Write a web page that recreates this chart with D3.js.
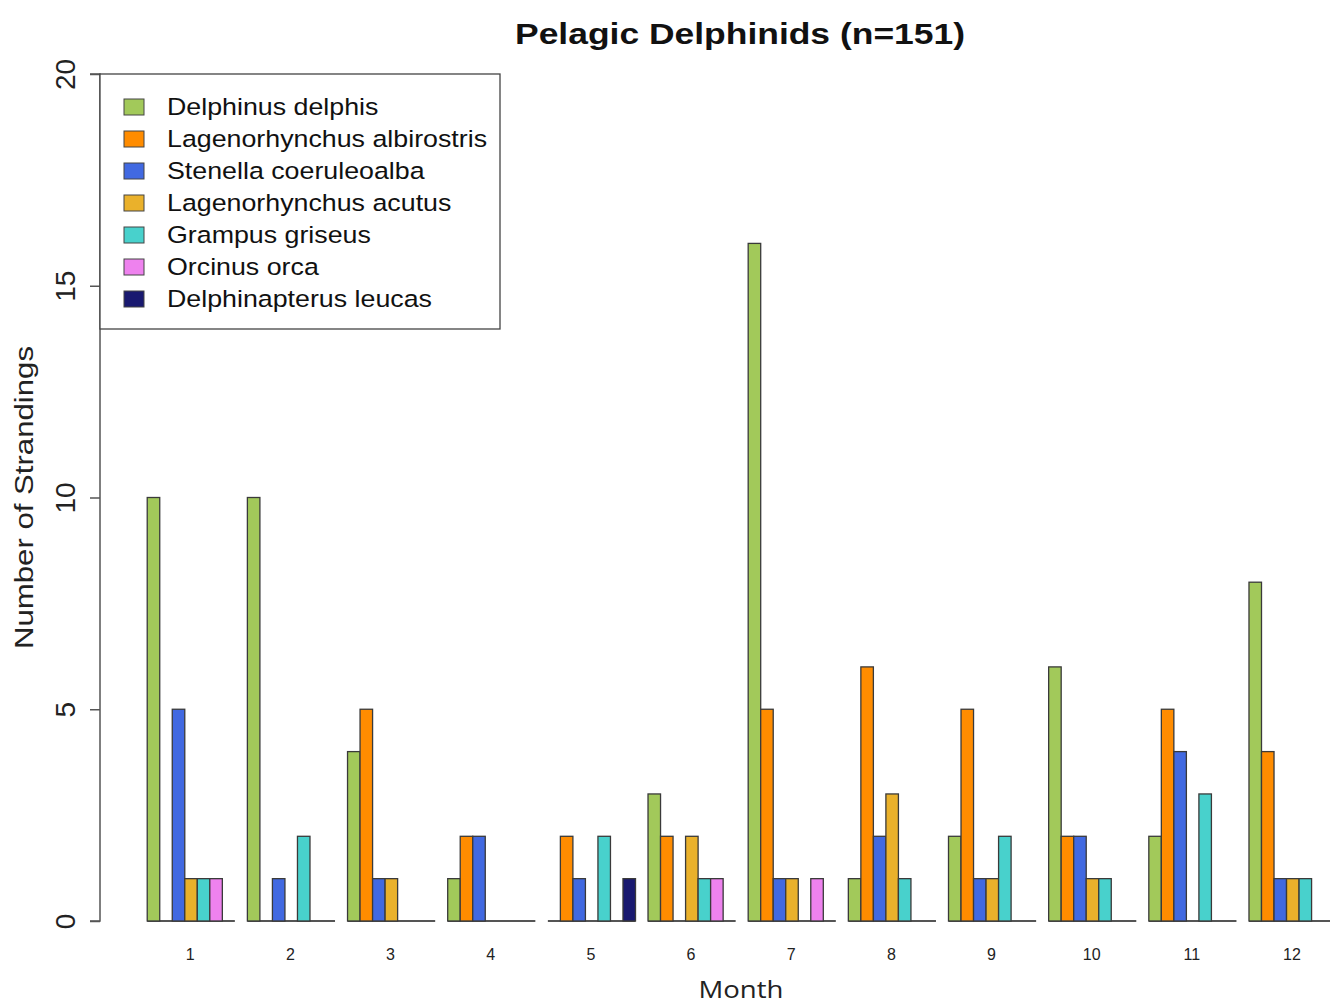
<!DOCTYPE html>
<html>
<head>
<meta charset="utf-8">
<script src="https://cdn.jsdelivr.net/npm/d3@7"></script>
<style>
  html, body { margin: 0; padding: 0; background: #fff; }
  svg { display: block; }
</style>
</head>
<body>
<svg id="chart" width="1330" height="1005"></svg>
<script>
// Monthly strandings of pelagic delphinids, grouped by species
const months = ["1","2","3","4","5","6","7","8","9","10","11","12"];
const species = [
  "Delphinus delphis",
  "Lagenorhynchus albirostris",
  "Stenella coeruleoalba",
  "Lagenorhynchus acutus",
  "Grampus griseus",
  "Orcinus orca",
  "Delphinapterus leucas"
];
const speciesColors = ["#a2c95a", "#ff8c00", "#4169e1", "#eab12b", "#48d1cc", "#ee82ee", "#191970"];

// counts per species, one value per month
const delphinusDelphis          = [10, 10, 4, 1, 0, 3, 16, 1, 2, 6, 2, 8];
const lagenorhynchusAlbirostris = [0, 0, 5, 2, 2, 2, 5, 6, 5, 2, 5, 4];
const stenellaCoeruleoalba      = [5, 1, 1, 2, 1, 0, 1, 2, 1, 2, 4, 1];
const lagenorhynchusAcutus      = [1, 0, 1, 0, 0, 2, 1, 3, 1, 1, 0, 1];
const grampusGriseus            = [1, 2, 0, 0, 2, 1, 0, 1, 2, 1, 3, 1];
const orcinusOrca               = [1, 0, 0, 0, 0, 1, 1, 0, 0, 0, 0, 0];
const delphinapterusLeucas      = [0, 0, 0, 0, 1, 0, 0, 0, 0, 0, 0, 0];

const yTicks = [0, 5, 10, 15, 20];

const seriesValues = [delphinusDelphis, lagenorhynchusAlbirostris, stenellaCoeruleoalba,
  lagenorhynchusAcutus, grampusGriseus, orcinusOrca, delphinapterusLeucas];
const total = d3.sum(seriesValues.flat());

const svg = d3.select("#chart");
const font = "'Liberation Sans', Arial, sans-serif";

// grouped layout: each month holds one spacer slot followed by one slot per species
const slotW = 12.52;
const slots = months.length * (species.length + 1);
const x0 = d3.scaleBand().domain(months).range([134.7, 134.7 + slotW * slots]).padding(0);
const x1 = d3.scaleBand().domain(species).range([slotW, x0.bandwidth()]).padding(0);
const y = d3.scaleLinear().domain([0, 20]).range([921, 74]);

const groups = svg.append("g").selectAll("g")
  .data(months)
  .join("g")
  .attr("transform", d => `translate(${x0(d)},0)`);

// baseline under each group (what a zero-height bar leaves behind)
groups.append("line")
  .attr("x1", x1.range()[0]).attr("x2", x1.range()[1])
  .attr("y1", y(0)).attr("y2", y(0))
  .attr("stroke", "#555").attr("stroke-width", 2);

groups.selectAll("rect")
  .data((m, i) => species.map((s, j) => ({ s, j, v: seriesValues[j][i] })))
  .join("rect")
  .attr("x", d => x1(d.s))
  .attr("width", x1.bandwidth())
  .attr("y", d => y(d.v))
  .attr("height", d => y(0) - y(d.v))
  .attr("fill", d => speciesColors[d.j])
  .attr("stroke", "#3a3a3a")
  .attr("stroke-width", 1.3);

// month labels under each group
svg.append("g").selectAll("text")
  .data(months)
  .join("text")
  .attr("x", d => x0(d) + slotW + x1.bandwidth() * species.length / 2 - 0.8)
  .attr("y", 960)
  .attr("text-anchor", "middle")
  .attr("font-family", font)
  .attr("font-size", 16)
  .attr("fill", "#222")
  .text(d => d);

// y axis
const yAxis = d3.axisLeft(y).tickValues(yTicks).tickSize(10).tickFormat(d3.format("d"));
const gy = svg.append("g").attr("transform", "translate(100,0)").call(yAxis);
gy.select(".domain").attr("stroke", "#555").attr("stroke-width", 1.5)
  .attr("d", `M-10,${y(20)}H0V${y(0)}H-10`);
gy.selectAll(".tick line").attr("stroke", "#555").attr("stroke-width", 1.5);
gy.selectAll(".tick text")
  .attr("font-family", font)
  .attr("font-size", 28)
  .attr("fill", "#222")
  .attr("x", 0).attr("y", 0).attr("dy", 0)
  .attr("text-anchor", "middle")
  .attr("transform", "translate(-25,0) rotate(-90)");

// axis titles
svg.append("text")
  .attr("transform", `translate(33,${y(10)}) rotate(-90)`)
  .attr("text-anchor", "middle")
  .attr("font-family", font)
  .attr("font-size", 26.5)
  .attr("textLength", 303)
  .attr("lengthAdjust", "spacingAndGlyphs")
  .attr("fill", "#222")
  .text("Number of Strandings");

svg.append("text")
  .attr("x", 741)
  .attr("y", 998)
  .attr("text-anchor", "middle")
  .attr("font-family", "'Open Sans', 'Liberation Sans', sans-serif")
  .attr("font-size", 24)
  .attr("textLength", 85)
  .attr("lengthAdjust", "spacingAndGlyphs")
  .attr("fill", "#222")
  .text("Month");

// title
svg.append("text")
  .attr("x", 740)
  .attr("y", 43.5)
  .attr("text-anchor", "middle")
  .attr("font-family", font)
  .attr("font-weight", "bold")
  .attr("font-size", 29)
  .attr("textLength", 450)
  .attr("lengthAdjust", "spacingAndGlyphs")
  .attr("fill", "#111")
  .text(`Pelagic Delphinids (n=${total})`);

// legend
const legend = svg.append("g");
legend.append("rect")
  .attr("x", 100).attr("y", 74).attr("width", 400).attr("height", 255)
  .attr("fill", "#fff").attr("stroke", "#444").attr("stroke-width", 1.3);
const items = legend.selectAll("g.item")
  .data(species)
  .join("g")
  .attr("class", "item")
  .attr("transform", (d, i) => `translate(0,${107 + i * 32})`);
items.append("rect")
  .attr("x", 124).attr("y", -8).attr("width", 20).attr("height", 16)
  .attr("fill", (d, i) => speciesColors[i])
  .attr("stroke", "#444").attr("stroke-width", 1);
items.append("text")
  .attr("transform", "translate(167,0) scale(1.14,1)")
  .attr("x", 0).attr("y", 0).attr("dy", "0.36em")
  .attr("font-family", font)
  .attr("font-size", 23.5)
  .attr("fill", "#111")
  .text(d => d);
</script>
</body>
</html>
